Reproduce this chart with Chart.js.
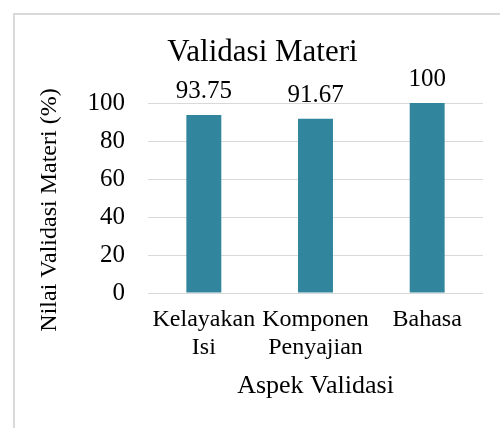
<!DOCTYPE html>
<html>
<head>
<meta charset="utf-8">
<script src="https://cdn.jsdelivr.net/npm/chart.js@4"></script>
<style>
  html, body { margin: 0; padding: 0; background: #fff; }
  #wrap { position: relative; width: 500px; height: 428px; overflow: hidden; }
  #frame { position: absolute; left: 13px; top: 13px; width: 600px; height: 600px;
           border: 2px solid #d9d9d9; box-sizing: border-box; }
  canvas { position: absolute; left: 0; top: 0; }
</style>
</head>
<body>
<div id="wrap">
  <div id="frame"></div>
  <canvas id="c" width="500" height="428"></canvas>
</div>
<script>
/* Validasi Materi — single bar series with values over bars. */

const categories = [["Kelayakan", "Isi"], ["Komponen", "Penyajian"], ["Bahasa"]];
const values = [93.75, 91.67, 100];
const yTicks = [0, 20, 40, 60, 80, 100];

const chartTitle = "Validasi Materi";
const xTitle = "Aspek Validasi";
const yTitle = "Nilai Validasi Materi (%)";

const serif = "'Liberation Serif', 'Times New Roman', serif";

// value labels above each bar
const valueLabels = {
  id: "valueLabels",
  afterDatasetsDraw(chart) {
    const ctx = chart.ctx;
    const meta = chart.getDatasetMeta(0);
    ctx.save();
    ctx.font = "25px " + serif;
    ctx.fillStyle = "#000";
    ctx.textAlign = "center";
    ctx.textBaseline = "alphabetic";
    meta.data.forEach((bar, i) => {
      ctx.fillText(String(values[i]), bar.x, bar.y - 17);
    });
    ctx.restore();
  },
};

// rotated y-axis title (Excel centres it a bit lower than Chart.js would)
const yAxisTitle = {
  id: "yAxisTitle",
  afterDraw(chart) {
    const ctx = chart.ctx;
    const a = chart.chartArea;
    ctx.save();
    ctx.translate(50, (a.top + a.bottom) / 2 + 12);
    ctx.rotate(-Math.PI / 2);
    ctx.font = "24px " + serif;
    ctx.fillStyle = "#000";
    ctx.textAlign = "center";
    ctx.textBaseline = "middle";
    ctx.fillText(yTitle, 0, 0);
    ctx.restore();
  },
};

new Chart(document.getElementById("c").getContext("2d"), {
  type: "bar",
  data: {
    labels: categories,
    datasets: [{
      data: values,
      backgroundColor: "#31859c",
      borderWidth: 0,
      categoryPercentage: 1,
      barPercentage: 0.313,
    }],
  },
  options: {
    animation: false,
    responsive: false,
    layout: { padding: { top: 13, left: 42, right: 17, bottom: 0 } },
    plugins: {
      legend: { display: false },
      tooltip: { enabled: false },
      title: {
        display: true,
        text: chartTitle,
        color: "#000",
        font: { family: serif, size: 31, weight: "normal" },
        padding: { top: 21, bottom: 31.8 },
      },
    },
    scales: {
      x: {
        grid: { display: false, drawTicks: false },
        border: { display: false },
        ticks: {
          color: "#000",
          font: { family: serif, size: 24, lineHeight: "28px" },
          padding: 13,
          maxRotation: 0,
          autoSkip: false,
        },
        title: {
          display: true,
          text: xTitle,
          color: "#000",
          font: { family: serif, size: 26 },
          padding: { top: 0, bottom: 26.4 },
        },
        afterFit(scale) { scale.height = 135; },
      },
      y: {
        min: 0,
        max: 100,
        afterBuildTicks(scale) { scale.ticks = yTicks.map((v) => ({ value: v })); },
        grid: { color: "#d9d9d9", lineWidth: 1, drawTicks: false },
        border: { display: false },
        ticks: {
          color: "#000",
          font: { family: serif, size: 25 },
          padding: 23,
        },
        afterFit(scale) { scale.width = 106; },
      },
    },
  },
  plugins: [valueLabels, yAxisTitle],
});
</script>
</body>
</html>
